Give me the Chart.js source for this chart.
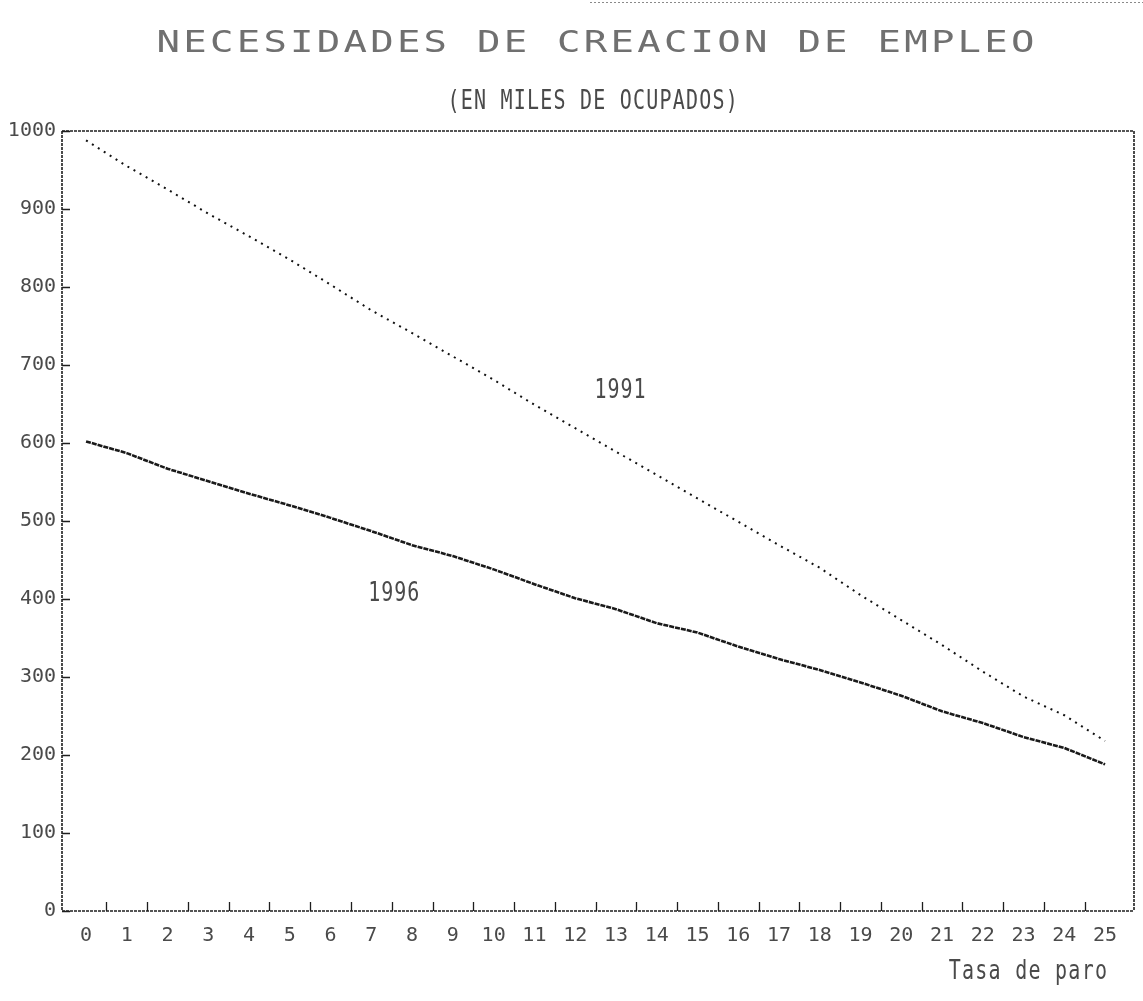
<!DOCTYPE html>
<html>
<head>
<meta charset="utf-8">
<script src="https://cdn.jsdelivr.net/npm/chart.js@4"></script>
<style>
  html, body { margin: 0; padding: 0; background: #ffffff; }
  #wrap { width: 1143px; height: 1001px; }
</style>
</head>
<body>
<div id="wrap"><canvas id="c" width="1143" height="1001"></canvas></div>
<script>
// ---- data ----
const tasas = [0,1,2,3,4,5,6,7,8,9,10,11,12,13,14,15,16,17,18,19,20,21,22,23,24,25];
const serie1991 = [988,955,925,894,865,835,803,770,741,711,681,649,619,589,559,529,499,469,440,405,373,341,307,275,251,218];
const serie1996 = [602,587,567,551,535,520,504,487,469,455,438,419,401,387,369,357,339,323,309,293,276,256,241,223,209,188];
const yTicks = [0,100,200,300,400,500,600,700,800,900,1000];
const titulo = "NECESIDADES DE CREACION DE EMPLEO";
const subtitulo = "(EN MILES DE OCUPADOS)";
const xTitulo = "Tasa de paro";
const etiquetas = [
  { text: "1991", x: 13.1, y: 670 },
  { text: "1996", x: 7.55, y: 410 }
];

const TEXT = "#4a4a4a";
const LINE = "#1e1e1e";
const MONO = "'DejaVu Sans Mono', 'Liberation Mono', monospace";

function drawChars(ctx, text, x0, pitch, yBase, font, sx, sy, color) {
  ctx.save();
  ctx.font = font;
  ctx.fillStyle = color;
  ctx.textAlign = "center";
  ctx.textBaseline = "alphabetic";
  for (let i = 0; i < text.length; i++) {
    const ch = text[i];
    if (ch === " ") continue;
    const cx = x0 + pitch * i + pitch / 2;
    ctx.save();
    ctx.translate(cx, yBase);
    ctx.scale(sx, sy);
    ctx.fillText(ch, 0, 0);
    ctx.restore();
  }
  ctx.restore();
}

const decor = {
  id: "decor",
  beforeDatasetsDraw(chart) {
    const { ctx, chartArea: a, scales } = chart;
    ctx.save();
    ctx.strokeStyle = LINE;
    ctx.lineWidth = 1.6;
    ctx.setLineDash([3, 1]);
    ctx.beginPath();
    ctx.moveTo(a.left, a.top); ctx.lineTo(a.right, a.top);
    ctx.moveTo(a.right, a.top); ctx.lineTo(a.right, a.bottom);
    ctx.moveTo(a.left, a.bottom); ctx.lineTo(a.right, a.bottom);
    ctx.moveTo(a.left, a.top); ctx.lineTo(a.left, a.bottom);
    ctx.stroke();
    ctx.setLineDash([]);
    ctx.lineWidth = 1.3;
    ctx.beginPath();
    yTicks.forEach(v => {
      const py = Math.round(scales.y.getPixelForValue(v)) + 0.5;
      ctx.moveTo(a.left, py); ctx.lineTo(a.left + 8, py);
    });
    for (let i = 0; i < tasas.length - 1; i++) {
      const px = Math.round(scales.x.getPixelForValue(tasas[i] + 0.5)) + 0.5;
      ctx.moveTo(px, a.bottom); ctx.lineTo(px, a.bottom - 9);
    }
    ctx.stroke();
    ctx.strokeStyle = "#8a8a8a";
    ctx.lineWidth = 1;
    ctx.setLineDash([2, 2]);
    ctx.beginPath();
    ctx.moveTo(590, 2.5); ctx.lineTo(1143, 2.5);
    ctx.stroke();
    ctx.restore();
  },
  afterDraw(chart) {
    const { ctx, scales } = chart;
    drawChars(ctx, titulo, 155, 26.7, 52, "30px " + MONO, 1.3, 1.0, "#707070");
    drawChars(ctx, subtitulo, 447, 13.25, 109, "20px " + MONO, 1.0, 1.35, TEXT);
    drawChars(ctx, xTitulo, 948, 13.3, 979, "20px " + MONO, 1.0, 1.3, TEXT);
    etiquetas.forEach(e => {
      const px = scales.x.getPixelForValue(e.x);
      const py = scales.y.getPixelForValue(e.y);
      drawChars(ctx, e.text, px - 26, 13, py + 10, "20px " + MONO, 1.0, 1.3, TEXT);
    });
  }
};

new Chart(document.getElementById("c"), {
  type: "line",
  data: {
    datasets: [
      {
        label: "1991",
        data: tasas.map((t, i) => ({ x: t, y: serie1991[i] })),
        borderColor: "#111111",
        borderWidth: 2,
        borderDash: [2, 5],
        pointRadius: 0,
        tension: 0,
        fill: false
      },
      {
        label: "1996",
        data: tasas.map((t, i) => ({ x: t, y: serie1996[i] })),
        borderColor: "#1a1a1a",
        borderWidth: 2.6,
        borderDash: [5, 1],
        pointRadius: 0,
        tension: 0,
        fill: false
      }
    ]
  },
  options: {
    responsive: false,
    animation: false,
    devicePixelRatio: 1,
    layout: { padding: { top: 131, right: 9, bottom: 40, left: 0 } },
    plugins: {
      legend: { display: false },
      title: { display: false },
      tooltip: { enabled: false }
    },
    scales: {
      x: {
        type: "linear",
        min: -0.59,
        max: 25.71,
        afterBuildTicks: s => { s.ticks = tasas.map(v => ({ value: v })); },
        afterFit: s => { s.height = 50; },
        grid: { display: false, drawTicks: false },
        border: { display: false },
        ticks: {
          color: TEXT,
          font: { family: MONO, size: 20 },
          padding: 13,
          maxRotation: 0,
          autoSkip: false,
          callback: v => String(v)
        }
      },
      y: {
        type: "linear",
        min: 0,
        max: 1000,
        afterBuildTicks: s => { s.ticks = yTicks.map(v => ({ value: v })); },
        afterFit: s => { s.width = 62; },
        grid: { display: false, drawTicks: false },
        border: { display: false },
        ticks: {
          color: TEXT,
          font: { family: MONO, size: 20 },
          padding: 6,
          autoSkip: false,
          callback: v => String(v)
        }
      }
    }
  },
  plugins: [decor]
});
</script>
</body>
</html>
